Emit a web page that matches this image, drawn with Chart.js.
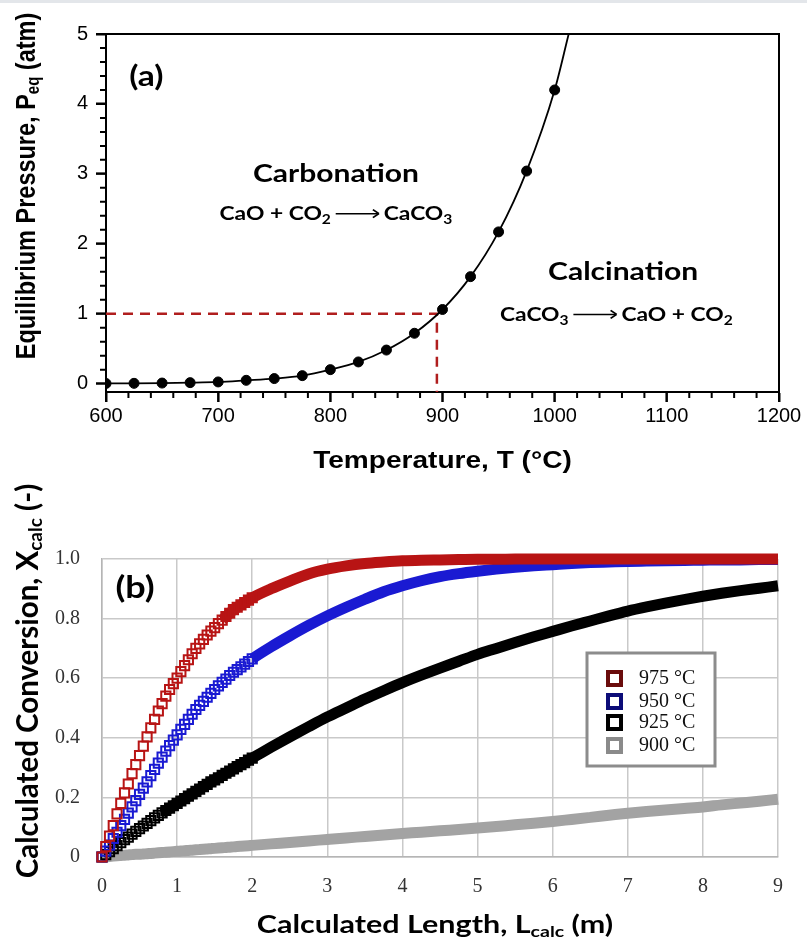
<!DOCTYPE html>
<html>
<head>
<meta charset="utf-8">
<script src="https://cdn.jsdelivr.net/npm/chart.js@4.4.1/dist/chart.umd.min.js"></script>
<style>
  html, body { margin: 0; padding: 0; background: #fff; }
  #wrap { position: relative; width: 807px; height: 943px; overflow: hidden; background: #fff; }
  #wrap canvas { position: absolute; left: 0; top: 0; }
  #strip { position: absolute; left: 0; top: 0; width: 807px; height: 3px; background: #e3e6ea; }
</style>
</head>
<body>
<div id="wrap">
  <canvas id="pressureChart" width="807" height="943"></canvas>
  <canvas id="conversionChart" width="807" height="943"></canvas>
  <div id="strip"></div>
</div>
<script>
// ---- (a) equilibrium pressure of CO2 over CaCO3 ----
const temps = [600, 625, 650, 675, 700, 725, 750, 775, 800, 825, 850, 875, 900, 925, 950, 975, 1000];
const pressures = [0.002, 0.004, 0.008, 0.014, 0.024, 0.047, 0.072, 0.114, 0.2, 0.31, 0.48, 0.72, 1.06, 1.53, 2.17, 3.04, 4.2];
const curveEnd = { x: 1012.5, y: 5 };   // where the fitted line leaves the frame
const refPressure = 1;                  // atm
const refTemp = 895;                    // degC
const pMin = -0.12;

// ---- (b) calculated conversion vs length ----
const lengths = [0, 0.05, 0.1, 0.15, 0.2, 0.25, 0.3, 0.35, 0.4, 0.45, 0.5, 0.55, 0.6, 0.65, 0.7, 0.75, 0.8, 0.85, 0.9, 0.95,
  1, 1.05, 1.1, 1.15, 1.2, 1.25, 1.3, 1.35, 1.4, 1.45, 1.5, 1.55, 1.6, 1.65, 1.7, 1.75, 1.8, 1.85, 1.9, 1.95, 2,
  2.25, 2.5, 2.75, 3, 3.25, 3.5, 3.75, 4, 4.25, 4.5, 4.75, 5, 5.25, 5.5, 5.75, 6, 6.25, 6.5, 6.75, 7, 7.25, 7.5, 7.75,
  8, 8.25, 8.5, 8.75, 9];
const conv975 = [0, 0.035, 0.07, 0.105, 0.145, 0.18, 0.215, 0.245, 0.28, 0.31, 0.34, 0.372, 0.403, 0.433, 0.462, 0.49, 0.515, 0.54, 0.562, 0.582,
  0.6, 0.622, 0.642, 0.662, 0.682, 0.7, 0.715, 0.73, 0.745, 0.758, 0.77, 0.783, 0.795, 0.807, 0.818, 0.83, 0.838, 0.846, 0.854, 0.862, 0.87,
  0.9, 0.926, 0.95, 0.966, 0.977, 0.985, 0.99, 0.994, 0.996, 0.997, 0.998, 0.999, 0.999, 1, 1, 1, 1, 1, 1, 1, 1, 1, 1,
  1, 1, 1, 1, 1];
const conv950 = [0, 0.02, 0.04, 0.062, 0.083, 0.105, 0.126, 0.147, 0.168, 0.189, 0.21, 0.231, 0.252, 0.273, 0.294, 0.315, 0.335, 0.355, 0.374, 0.392,
  0.41, 0.428, 0.445, 0.462, 0.479, 0.495, 0.509, 0.522, 0.536, 0.549, 0.562, 0.574, 0.586, 0.597, 0.609, 0.62, 0.629, 0.638, 0.647, 0.656, 0.665,
  0.705, 0.742, 0.777, 0.809, 0.838, 0.865, 0.89, 0.91, 0.927, 0.941, 0.951, 0.959, 0.966, 0.972, 0.977, 0.981, 0.985, 0.988, 0.99, 0.992, 0.993, 0.994, 0.995,
  0.996, 0.997, 0.997, 0.998, 0.998];
const conv925 = [0, 0.008, 0.018, 0.028, 0.038, 0.048, 0.058, 0.067, 0.077, 0.086, 0.095, 0.104, 0.113, 0.122, 0.131, 0.14, 0.148, 0.156, 0.164, 0.172,
  0.18, 0.188, 0.196, 0.204, 0.212, 0.22, 0.228, 0.236, 0.244, 0.252, 0.259, 0.266, 0.274, 0.281, 0.288, 0.296, 0.303, 0.31, 0.317, 0.325, 0.332,
  0.368, 0.403, 0.437, 0.47, 0.5, 0.53, 0.558, 0.585, 0.61, 0.634, 0.657, 0.68, 0.7, 0.72, 0.739, 0.757, 0.775, 0.792, 0.809, 0.825, 0.839, 0.852, 0.864,
  0.875, 0.885, 0.894, 0.902, 0.91];
const conv900 = [0, 0.001, 0.002, 0.003, 0.004, 0.005, 0.006, 0.007, 0.008, 0.009, 0.009, 0.01, 0.011, 0.012, 0.013, 0.014, 0.015, 0.016, 0.017, 0.018,
  0.019, 0.02, 0.021, 0.022, 0.023, 0.024, 0.025, 0.026, 0.027, 0.028, 0.029, 0.03, 0.031, 0.032, 0.033, 0.034, 0.035, 0.036, 0.037, 0.038, 0.039,
  0.044, 0.049, 0.054, 0.059, 0.064, 0.069, 0.074, 0.079, 0.083, 0.088, 0.092, 0.097, 0.102, 0.108, 0.113, 0.119, 0.126, 0.133, 0.14, 0.147, 0.153, 0.158, 0.163,
  0.168, 0.175, 0.181, 0.187, 0.194];
const seriesLabels = ['975 \u00B0C', '950 \u00B0C', '925 \u00B0C', '900 \u00B0C'];

const SANS = '"Liberation Sans", Arial, sans-serif';
const CAL = 'Lato, "Open Sans", sans-serif';
const SERIF = '"Liberation Serif", "Times New Roman", serif';

// draw a line of text made of parts (for subscripts / arrows), centred on x,y.
// sx stretches the result horizontally on screen (the original figure is widened)
function drawRich(ctx, parts, x, y, angle, sx) {
  ctx.save();
  ctx.translate(x, y);
  ctx.scale(sx || 1, 1);
  ctx.rotate(angle || 0);
  ctx.textBaseline = 'middle';
  ctx.textAlign = 'left';
  let total = 0;
  parts.forEach(p => {
    if (p.arrow) { total += p.arrow; return; }
    ctx.font = p.font;
    total += ctx.measureText(p.text).width;
  });
  let cx = -total / 2;
  parts.forEach(p => {
    ctx.fillStyle = p.color || '#000';
    ctx.strokeStyle = p.color || '#000';
    if (p.arrow) {
      ctx.lineWidth = 1.5;
      ctx.beginPath();
      ctx.moveTo(cx + 4, 0);
      ctx.lineTo(cx + p.arrow - 5, 0);
      ctx.stroke();
      ctx.beginPath();
      ctx.moveTo(cx + p.arrow - 4, 0);
      ctx.lineTo(cx + p.arrow - 9, -4);
      ctx.moveTo(cx + p.arrow - 4, 0);
      ctx.lineTo(cx + p.arrow - 9, 4);
      ctx.stroke();
      cx += p.arrow;
      return;
    }
    ctx.font = p.font;
    ctx.fillText(p.text, cx, p.dy || 0);
    cx += ctx.measureText(p.text).width;
  });
  ctx.restore();
}

function sub(text, size, dy) {
  return { text: text, font: 'bold ' + size + 'px ' + CAL, dy: dy };
}
function main(text, size) {
  return { text: text, font: 'bold ' + size + 'px ' + CAL };
}

// ---------- chart (a) ----------
const pressureDecor = {
  id: 'pressureDecor',
  afterDraw(chart) {
    const ctx = chart.ctx;
    const a = chart.chartArea;
    const xs = chart.scales.x, ys = chart.scales.y;
    ctx.save();
    // frame top/right
    ctx.strokeStyle = '#000';
    ctx.lineWidth = 2;
    ctx.beginPath();
    ctx.moveTo(a.left, a.top);
    ctx.lineTo(a.right, a.top);
    ctx.lineTo(a.right, a.bottom);
    ctx.stroke();
    // major + minor tick marks, pointing outwards
    ctx.beginPath();
    xs.ticks.forEach(t => {
      const px = xs.getPixelForValue(t.value);
      ctx.moveTo(px, a.bottom);
      ctx.lineTo(px, a.bottom + 10);
    });
    ys.ticks.forEach(t => {
      const py = ys.getPixelForValue(t.value);
      ctx.moveTo(a.left, py);
      ctx.lineTo(a.left - 10, py);
    });
    for (let v = 620; v < 1200; v += 20) {
      if (v % 100 === 0) continue;
      const px = xs.getPixelForValue(v);
      ctx.moveTo(px, a.bottom);
      ctx.lineTo(px, a.bottom + 6);
    }
    for (let i = 1; i < 25; i++) {
      if (i % 5 === 0) continue;
      const py = ys.getPixelForValue(i * 0.2);
      ctx.moveTo(a.left, py);
      ctx.lineTo(a.left - 6, py);
    }
    ctx.stroke();
    ctx.restore();

    // labels inside the plot
    drawRich(ctx, [main('(a)', 28)], xs.getPixelForValue(636), ys.getPixelForValue(4.39), 0, 1.2);
    drawRich(ctx, [main('Carbonation', 25)], xs.getPixelForValue(805), ys.getPixelForValue(3.0), 0, 1.2);
    drawRich(ctx, [main('CaO + CO', 19), sub('2', 13, 6), { arrow: 44 }, main('CaCO', 19), sub('3', 13, 6)],
      xs.getPixelForValue(805), ys.getPixelForValue(2.43), 0, 1.2);
    drawRich(ctx, [main('Calcination', 25)], xs.getPixelForValue(1061), ys.getPixelForValue(1.59), 0, 1.2);
    drawRich(ctx, [main('CaCO', 19), sub('3', 13, 6), { arrow: 44 }, main('CaO + CO', 19), sub('2', 13, 6)],
      xs.getPixelForValue(1055), ys.getPixelForValue(0.99), 0, 1.2);

    // axis titles
    const tf = 'bold 23px ' + SANS;
    const ts = 'bold 15px ' + SANS;
    drawRich(ctx, [{ text: 'Temperature, T (\u00B0C)', font: tf }], (a.left + a.right) / 2, a.bottom + 70, 0, 1.22);
    const yf = 'bold 23.5px ' + SANS;
    drawRich(ctx, [{ text: 'Equilibrium Pressure, P', font: yf }, { text: 'eq', font: ts, dy: 6 }, { text: ' (atm)', font: yf }],
      27, (a.top + a.bottom) / 2 - 27, -Math.PI / 2, 1.2);
  }
};

new Chart(document.getElementById('pressureChart'), {
  type: 'scatter',
  data: {
    datasets: [
      {
        label: 'Peq',
        data: temps.map((t, i) => ({ x: t, y: pressures[i] })),
        pointRadius: 5,
        pointBackgroundColor: '#000',
        pointBorderColor: '#000',
        showLine: false
      },
      {
        label: 'fit',
        data: temps.map((t, i) => ({ x: t, y: pressures[i] })).concat([curveEnd]),
        showLine: true,
        borderColor: '#000',
        borderWidth: 1.8,
        pointRadius: 0,
        cubicInterpolationMode: 'monotone'
      },
      {
        label: 'ref',
        data: [{ x: 600, y: refPressure }, { x: refTemp, y: refPressure }, { x: refTemp, y: pMin }],
        showLine: true,
        borderColor: '#b01e1e',
        borderWidth: 2.5,
        borderDash: [10, 7],
        pointRadius: 0,
        tension: 0
      }
    ]
  },
  options: {
    responsive: false,
    animation: false,
    events: [],
    layout: { padding: { left: 46, right: 28, top: 34, bottom: 511 } },
    plugins: { legend: { display: false }, tooltip: { enabled: false } },
    scales: {
      x: {
        type: 'linear', min: 600, max: 1200,
        afterFit: s => { s.height = 40; },
        ticks: { stepSize: 100, color: '#000', font: { family: SANS, size: 20 }, padding: 2, maxRotation: 0,
          callback: v => String(v) },
        grid: { drawOnChartArea: false, tickLength: 10, tickColor: '#000', tickWidth: 2 },
        border: { display: true, color: '#000', width: 2 }
      },
      y: {
        type: 'linear', min: pMin, max: 5,
        afterFit: s => { s.width = 60; },
        ticks: { stepSize: 1, includeBounds: false, color: '#000', font: { family: SANS, size: 20 }, padding: 8 },
        grid: { drawOnChartArea: false, tickLength: 10, tickColor: '#000', tickWidth: 2 },
        border: { display: true, color: '#000', width: 2 }
      }
    }
  },
  plugins: [pressureDecor]
});

// ---------- chart (b) ----------
// bandFrom: length from which the overlapping markers read as one solid band
const seriesStyle = [
  { values: conv975, color: '#b81414', legend: '#6a0c0c', bandFrom: 1.6 },
  { values: conv950, color: '#1a1ad2', legend: '#0c0c78', bandFrom: 2 },
  { values: conv925, color: '#000000', legend: '#000000', bandFrom: 0.8 },
  { values: conv900, color: '#a3a3a3', legend: '#8a8a8a', bandFrom: 0 }
];
const markersTo = 2;

const conversionDecor = {
  id: 'conversionDecor',
  afterDraw(chart) {
    const ctx = chart.ctx;
    const a = chart.chartArea;
    const xs = chart.scales.x, ys = chart.scales.y;

    drawRich(ctx, [main('(b)', 30)], xs.getPixelForValue(0.44), ys.getPixelForValue(0.9), 0, 1.2);

    // legend box
    const bx = a.left + 485, by = a.top + 94, bw = 128, bh = 113;
    ctx.save();
    ctx.fillStyle = '#fff';
    ctx.fillRect(bx, by, bw, bh);
    ctx.strokeStyle = '#8c8c8c';
    ctx.lineWidth = 3;
    ctx.strokeRect(bx, by, bw, bh);
    ctx.textBaseline = 'middle';
    ctx.textAlign = 'left';
    ctx.font = '20px ' + SERIF;
    const rows = [25, 48, 69, 92];
    seriesStyle.forEach((s, i) => {
      const cy = by + rows[i];
      ctx.strokeStyle = s.legend;
      ctx.lineWidth = 4;
      ctx.strokeRect(bx + 21, cy - 6, 13, 13);
      ctx.fillStyle = '#111';
      ctx.fillText(seriesLabels[i], bx + 52, cy + 1);
    });
    ctx.restore();

    const tf = 'bold 25px ' + CAL;
    const ts = 'bold 16px ' + CAL;
    drawRich(ctx, [{ text: 'Calculated Length, L', font: tf }, { text: 'calc', font: ts, dy: 7 }, { text: ' (m)', font: tf }],
      (a.left + a.right) / 2 - 5, a.bottom + 68, 0, 1.22);
    const yf = 'bold 29.5px ' + CAL;
    const ys2 = 'bold 19px ' + CAL;
    drawRich(ctx, [{ text: 'Calculated Conversion, X', font: yf }, { text: 'calc', font: ys2, dy: 8 }, { text: ' (-)', font: yf }],
      28, (a.top + a.bottom) / 2 - 27, -Math.PI / 2, 1);
  }
};

new Chart(document.getElementById('conversionChart'), {
  type: 'scatter',
  data: {
    datasets: seriesStyle.map((s, i) => ({
      label: seriesLabels[i],
      data: lengths.map((l, k) => ({ x: l, y: s.values[k] })),
      showLine: true,
      borderWidth: 11,
      borderColor: s.color,
      cubicInterpolationMode: 'monotone',
      segment: { borderColor: ctx => lengths[ctx.p0DataIndex] >= s.bandFrom ? s.color : 'rgba(0,0,0,0)' },
      pointStyle: 'rect',
      pointRadius: ctx => (s.bandFrom > 0 && lengths[ctx.dataIndex] <= markersTo ? 6.5 : 0),
      pointBorderWidth: 2,
      pointBorderColor: s.color,
      pointBackgroundColor: 'rgba(0,0,0,0)',
      clip: 10
    }))
  },
  options: {
    responsive: false,
    animation: false,
    events: [],
    layout: { padding: { left: 42, right: 29, top: 559, bottom: 46 } },
    plugins: { legend: { display: false }, tooltip: { enabled: false } },
    scales: {
      x: {
        type: 'linear', min: 0, max: 9,
        afterFit: s => { s.height = 40; },
        ticks: { stepSize: 1, color: '#333', font: { family: SERIF, size: 20 }, padding: 18, maxRotation: 0 },
        grid: { color: '#c9c9c9', lineWidth: 1.5, drawTicks: false },
        border: { display: true, color: '#b5b5b5', width: 1.5 }
      },
      y: {
        type: 'linear', min: 0, max: 1,
        afterFit: s => { s.width = 60; },
        ticks: {
          stepSize: 0.2, color: '#333', font: { family: SERIF, size: 20 }, padding: 22,
          callback: v => (v === 0 ? '0' : v.toFixed(1))
        },
        grid: { color: '#c9c9c9', lineWidth: 1.5, drawTicks: false },
        border: { display: true, color: '#b5b5b5', width: 1.5 }
      }
    }
  },
  plugins: [conversionDecor]
});
</script>
</body>
</html>
